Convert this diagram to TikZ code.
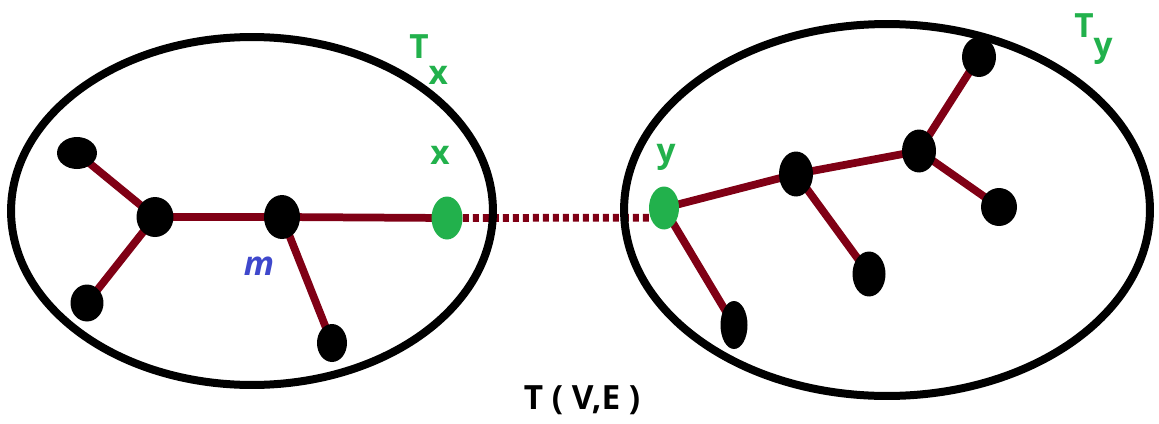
\documentclass[tikz,border=0pt]{standalone}
\usepackage{fontspec}
\setmainfont{Open Sans}
\usetikzlibrary{positioning,shapes.geometric,backgrounds}
\definecolor{treered}{RGB}{128,0,21}
\definecolor{treegreen}{RGB}{34,177,76}
\definecolor{treeblue}{RGB}{63,72,204}
\tikzset{
    vert/.style={ellipse, fill=black, inner sep=0pt,
        minimum width=0.68cm, minimum height=0.86cm},
    endvert/.style={vert, fill=treegreen},
    treeedge/.style={draw=treered, line width=0.155cm},
    bridge/.style={draw=treered, line width=0.155cm, dash pattern=on 0.12cm off 0.08cm},
    subtree/.style={line width=0.16cm},
    lbl/.style={font=\fontsize{19}{21}\selectfont\bfseries, text=treegreen, inner sep=0pt}
}

\begin{document}
\begin{tikzpicture}[x=0.02cm, y=-0.02cm]
\useasboundingbox (0,0) rectangle (1159,423);
% the two subtrees
\draw[subtree] (252,211) ellipse [x radius=4.82cm, y radius=3.48cm];
\draw[subtree] (887,210) ellipse [x radius=5.26cm, y radius=3.72cm];
% left tree T_x
\node[vert, minimum width=0.8cm, minimum height=0.64cm] (la) at (77,153) {};
\node[vert, minimum width=0.74cm, minimum height=0.8cm] (lb) at (155,217) {};
\node[vert, minimum width=0.66cm, minimum height=0.74cm] (lc) at (87,303) {};
\node[vert, minimum width=0.72cm, minimum height=0.88cm] (m) at (282,217) {};
\node[vert, minimum width=0.6cm, minimum height=0.76cm] (ld) at (332,343) {};
\node[endvert, minimum width=0.62cm] (x) at (447,218) {};
% right tree T_y
\node[endvert, minimum width=0.6cm] (y) at (664,208) {};
\node[vert, minimum width=0.54cm, minimum height=0.96cm] (re) at (734,325) {};
\node[vert, minimum height=0.9cm] (rf) at (796,174) {};
\node[vert, minimum width=0.66cm, minimum height=0.9cm] (rg) at (869,274) {};
\node[vert] (rh) at (919,151) {};
\node[vert, minimum height=0.8cm] (ri) at (979,57) {};
\node[vert, minimum width=0.72cm, minimum height=0.76cm] (rj) at (999,207) {};
% edges
\begin{scope}[on background layer]
\draw[treeedge] (la.center) -- (lb.center) (lb.center) -- (lc.center)
    (lb.center) -- (m.center) (m.center) -- (ld.center) (m.center) -- (x.center);
\draw[treeedge] (y.center) -- (re.center) (y.center) -- (rf.center)
    (rf.center) -- (rg.center) (rf.center) -- (rh.center)
    (rh.center) -- (ri.center) (rh.center) -- (rj.center);
\draw[bridge] (x.east) -- (y.215);
\end{scope}
% labels
\node[lbl, anchor=base west] (tx) at (409,58) {T\raisebox{-15pt}{x}};
\node[lbl, anchor=base west] (ty) at (1074,37) {T\raisebox{-11pt}{y}};
\node[lbl] (xlbl) at (440,155) {x};
\node[lbl, anchor=base] (ylbl) at (666,162) {y};
\node[font=\fontsize{19}{21}\selectfont\bfseries\itshape, text=treeblue] (mlbl) at (259,266) {m};
\node[font=\fontsize{19}{21}\selectfont\bfseries, anchor=base] (tve) at (582,409) {T ( V,E )};
\end{tikzpicture}
\end{document}
